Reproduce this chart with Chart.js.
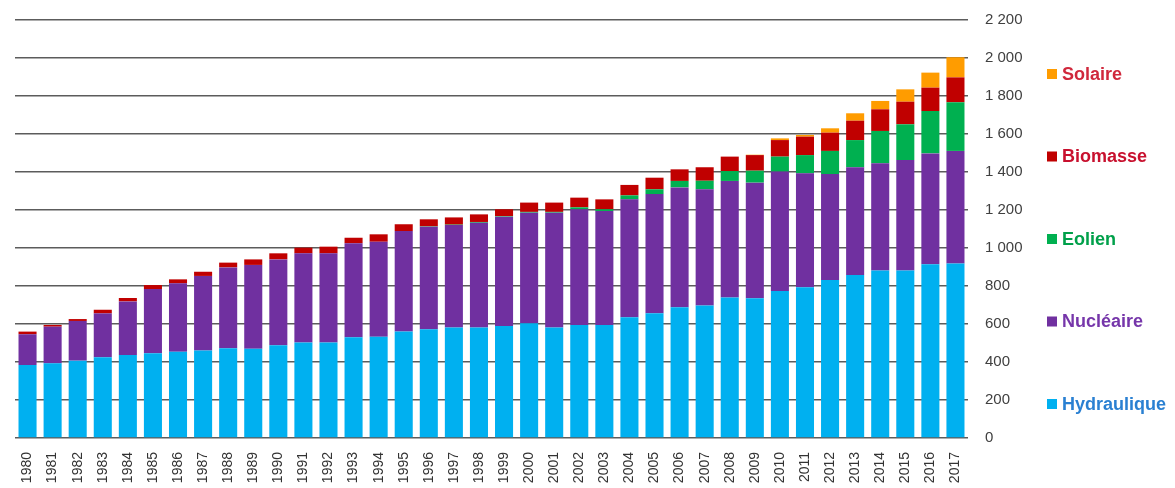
<!DOCTYPE html>
<html>
<head>
<meta charset="utf-8">
<script src="https://cdn.jsdelivr.net/npm/chart.js@4.4.1/dist/chart.umd.min.js"></script>
<style>
	html, body { margin: 0; padding: 0; background: #fff; }
	canvas { display: block; }
</style>
</head>
<body>
<canvas id="prod" width="1175" height="488"></canvas>
<script>
// Production par filiere, 1980-2017 (valeurs empilees)
var years = ['1980','1981','1982','1983','1984','1985','1986','1987','1988','1989',
	'1990','1991','1992','1993','1994','1995','1996','1997','1998','1999',
	'2000','2001','2002','2003','2004','2005','2006','2007','2008','2009',
	'2010','2011','2012','2013','2014','2015','2016','2017'];

var hydraulique = [384,393,407,425,437,446,454,460,472,470,
	488,502,502,530,533,560,572,582,582,589,
	604,582,595,595,635,656,688,698,740,735,
	774,793,832,858,881,881,914,919];

var nucleaire = [162,193,209,231,282,338,360,393,426,441,
	452,470,470,495,500,529,540,539,551,576,
	582,604,609,600,621,628,631,611,613,609,
	628,600,557,567,565,582,584,592];

var eolien = [0,0,0,0,0,0,0,0,0,0,
	0,0,0,0,0,0,2,2,4,3,
	4,4,10,9,21,25,34,45,52,63,
	79,96,122,143,170,188,223,256];

var biomasse = [14,9,10,19,18,21,21,22,25,29,
	32,30,35,29,39,36,37,38,40,36,
	49,49,51,52,55,61,61,71,76,82,
	87,97,96,102,114,119,123,131];

var solaire = [0,0,0,0,0,0,0,0,0,0,
	0,0,0,0,0,0,0,0,0,0,
	0,0,0,0,0,0,0,0,0,2,
	9,9,23,39,44,65,79,106];

var yTicks = [0,200,400,600,800,1000,1200,1400,1600,1800,2000,2200];

// legend text colours differ a little from the bar colours
var legendText = {
	'Solaire'    : '#d0283c',
	'Biomasse'   : '#c8102e',
	'Eolien'     : '#00a04a',
	'Nucléaire'  : '#7636aa',
	'Hydraulique': '#2a80d2'
};

function thousands(v)
{
	var s = String(v);
	if (s.length > 3) s = s.slice(0, s.length - 3) + ' ' + s.slice(s.length - 3);
	return s;
}

// legend drawn on the right, one entry per series, top series first
var sideLegend = {
	id: 'sideLegend',
	afterDraw: function(chart) {
		var ctx = chart.ctx;
		var ds = chart.data.datasets;
		ctx.save();
		ctx.font = 'bold 18px "Liberation Sans", sans-serif';
		ctx.textBaseline = 'middle';
		ctx.textAlign = 'left';
		for (var i = 0; i < ds.length; i++) {
			var d = ds[ds.length - 1 - i];
			var y = 74 + i * 82.5;
			ctx.fillStyle = d.backgroundColor;
			ctx.fillRect(1047, y - 5, 10, 10);
			ctx.fillStyle = legendText[d.label];
			ctx.fillText(d.label, 1062, y + 1);
		}
		ctx.restore();
	}
};

Chart.defaults.font.family = '"Liberation Sans", sans-serif';
Chart.defaults.color = '#404040';

var datasets = [
	{ label: 'Hydraulique', data: hydraulique, backgroundColor: '#00b0f0' },
	{ label: 'Nucléaire',   data: nucleaire,   backgroundColor: '#7030a0' },
	{ label: 'Eolien',      data: eolien,      backgroundColor: '#00b050' },
	{ label: 'Biomasse',    data: biomasse,    backgroundColor: '#c00000' },
	{ label: 'Solaire',     data: solaire,     backgroundColor: '#ff9c00' }
];
for (var i = 0; i < datasets.length; i++) {
	datasets[i].barPercentage = 0.72;
	datasets[i].categoryPercentage = 1.0;
	datasets[i].borderWidth = 0;
}

var ctx = document.getElementById('prod').getContext('2d');
var chart = new Chart(ctx, {
	type: 'bar',
	data: { labels: years, datasets: datasets },
	options: {
		responsive: false,
		animation: false,
		layout: { padding: { left: 15, top: 20, right: 0, bottom: 0 } },
		plugins: {
			legend: { display: false },
			tooltip: { enabled: false }
		},
		scales: {
			x: {
				stacked: true,
				grid: { display: false, drawTicks: false },
				border: { display: false },
				ticks: {
					autoSkip: false,
					minRotation: 90,
					maxRotation: 90,
					padding: 14,
					color: '#333',
					font: { size: 14 }
				},
				afterFit: function(scale) { scale.height = 50; }
			},
			y: {
				stacked: true,
				position: 'right',
				min: 0,
				max: 2200,
				afterBuildTicks: function(scale) {
					scale.ticks = yTicks.map(function(v) { return { value: v }; });
				},
				grid: { color: '#5c5c5c', lineWidth: 1.5, drawTicks: false },
				border: { display: false },
				ticks: {
					padding: 17,
					color: '#404040',
					font: { size: 15 },
					callback: function(v) { return thousands(v); }
				},
				afterFit: function(scale) {
					// fixed axis width, and no extra room reserved above the top tick
					scale.width = 207;
					scale.paddingTop = 0;
					scale.paddingBottom = 0;
				}
			}
		}
	},
	plugins: [sideLegend]
});
</script>
</body>
</html>
